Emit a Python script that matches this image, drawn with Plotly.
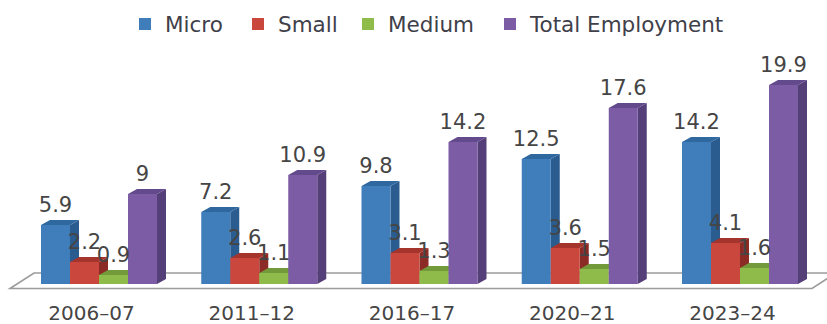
import plotly.graph_objects as go

# Employment by enterprise size (millions)
periods = ["2006–07", "2011–12", "2016–17", "2020–21", "2023–24"]
micro = [5.9, 7.2, 9.8, 12.5, 14.2]
small = [2.2, 2.6, 3.1, 3.6, 4.1]
medium = [0.9, 1.1, 1.3, 1.5, 1.6]
total = [9, 10.9, 14.2, 17.6, 19.9]

series = [
    ("Micro", micro, "#3f7dbb", "#2b5c8f", "#2f689f"),
    ("Small", small, "#c9473c", "#8c2b25", "#a5342c"),
    ("Medium", medium, "#8fbb4b", "#6b8f35", "#739a3a"),
    ("Total Employment", total, "#7d5ca6", "#543f78", "#634a8c"),
]

# Axis scale: one category is 160.25 px wide, one unit of value is 10 px tall
W, H, BOTTOM = 827, 324, 27
PX_X = 160.25
PX_Y = 10
x_range = [-99 / PX_X, (W - 99) / PX_X]
y_range = [-(H - BOTTOM - 284) / PX_Y, 284 / PX_Y]

BAR_W = 29 / PX_X
DEPTH_X = 9 / PX_X
DEPTH_Y = 5 / PX_Y
TEXT = "#454545"
FONT = "DejaVu Sans"
LEGEND_SWATCH_CENTERS = [145, 258, 368, 510]

fig = go.Figure()

# Side and top faces, left to right so later bars cover earlier ones
for j, (name, values, front, side, top) in enumerate(series):
    sx, sy, tx, ty = [], [], [], []
    for i, v in enumerate(values):
        left = i + (j - 2) * BAR_W
        right = left + BAR_W
        sx += [right, right + DEPTH_X, right + DEPTH_X, right, right, None]
        sy += [0, DEPTH_Y, v + DEPTH_Y, v, 0, None]
        tx += [left, left + DEPTH_X, right + DEPTH_X, right, left, None]
        ty += [v, v + DEPTH_Y, v + DEPTH_Y, v, v, None]
    for xs, ys, color in ((sx, sy, side), (tx, ty, top)):
        fig.add_trace(go.Scatter(
            x=xs, y=ys, mode="lines", fill="toself", fillcolor=color,
            line=dict(width=0, color=color), showlegend=False, hoverinfo="skip",
            xaxis="x", yaxis="y",
        ))

# Front faces sit on an overlaid axis pair above the side faces
for j, (name, values, front, side, top) in enumerate(series):
    fig.add_trace(go.Bar(
        name=name,
        x=[i + (j - 1.5) * BAR_W for i in range(len(periods))],
        y=values, width=BAR_W, marker=dict(color=front, line=dict(width=0)),
        xaxis="x2", yaxis="y2",
        legend="legend" if j == 0 else f"legend{j + 1}",
    ))

# Value labels
for j, (name, values, front, side, top) in enumerate(series):
    fig.add_trace(go.Scatter(
        x=[i + (j - 1.5) * BAR_W for i in range(len(periods))],
        y=[v + 1.85 for v in values],
        text=[str(v) for v in values],
        mode="text", textposition="middle center",
        textfont=dict(family=FONT, size=21, color=TEXT),
        showlegend=False, hoverinfo="skip", xaxis="x2", yaxis="y2",
    ))

# Chart floor
floor_front = -0.45
floor_back = 1.1
floor_x = [(10 - 99) / PX_X, (812 - 99) / PX_X, (836 - 99) / PX_X, (34 - 99) / PX_X, (10 - 99) / PX_X]
floor_y = [floor_front, floor_front, floor_back, floor_back, floor_front]
fig.add_shape(
    type="path",
    path="M " + " L ".join(f"{a},{b}" for a, b in zip(floor_x, floor_y)) + " Z",
    xref="x", yref="y", layer="below",
    line=dict(color="#9c9c9c", width=1.6), fillcolor="white",
)

hidden = dict(visible=False, fixedrange=True)
fig.update_layout(
    width=W, height=H,
    margin=dict(l=0, r=0, t=0, b=BOTTOM, pad=0),
    paper_bgcolor="white", plot_bgcolor="white",
    barmode="overlay",
    font=dict(family=FONT, color=TEXT),
    xaxis=dict(
        range=x_range, showgrid=False, zeroline=False, showline=False,
        tickvals=[i - 7.5 / PX_X for i in range(len(periods))], ticktext=periods,
        ticks="", ticklen=0, automargin=False, ticklabelstandoff=2,
        tickfont=dict(family=FONT, size=20, color=TEXT),
    ),
    yaxis=dict(range=y_range, **hidden),
    xaxis2=dict(range=x_range, overlaying="x", **hidden),
    yaxis2=dict(range=y_range, overlaying="y", **hidden),
    showlegend=True,
)

# One legend box per series so each entry keeps its own spacing
for j, centre in enumerate(LEGEND_SWATCH_CENTERS):
    key = "legend" if j == 0 else f"legend{j + 1}"
    fig.update_layout({key: dict(
        orientation="h", x=(centre - 20) / W, xanchor="left",
        y=1 - 24 / (H - BOTTOM), yanchor="middle",
        font=dict(family=FONT, size=21.5, color="#40404a"),
        bgcolor="rgba(0,0,0,0)",
    )})

fig.write_html("out.html", config=dict(displayModeBar=False))
